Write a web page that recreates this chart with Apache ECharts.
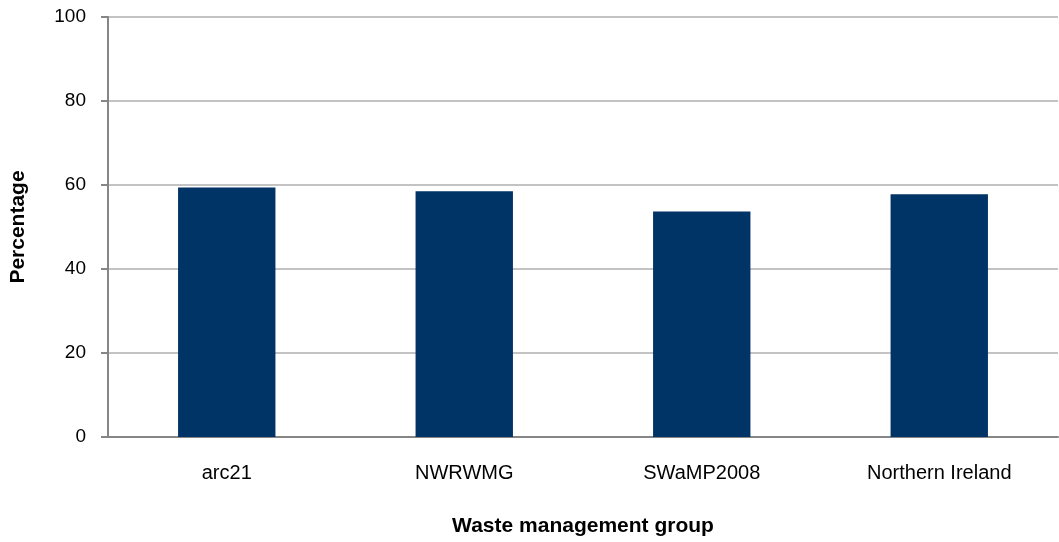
<!DOCTYPE html>
<html>
<head>
<meta charset="utf-8">
<script src="https://cdn.jsdelivr.net/npm/echarts@6/dist/echarts.min.js"></script>
<style>
html,body{margin:0;padding:0;background:#fff;overflow:hidden;}
#chart{width:1059px;height:542px;}
</style>
</head>
<body>
<div id="chart"></div>
<script>
const categories = ['arc21', 'NWRWMG', 'SWaMP2008', 'Northern Ireland'];
const values = [59.4, 58.5, 53.7, 57.8];
const yTicks = [0, 20, 40, 60, 80, 100];

const FONT = 'Liberation Sans, Arial, sans-serif';
const chart = echarts.init(document.getElementById('chart'));
chart.setOption({
  animation: false,
  textStyle: { fontFamily: FONT },
  grid: { left: 107, right: 1, top: 17, bottom: 100, containLabel: false },
  xAxis: {
    type: 'category',
    data: categories,
    name: 'Waste management group',
    nameLocation: 'middle',
    nameGap: 79,
    nameTextStyle: { fontSize: 21, fontWeight: 'bold', color: '#000', fontFamily: FONT },
    axisLine: { lineStyle: { color: '#868686', width: 2 } },
    axisTick: { show: false },
    axisLabel: { fontSize: 20, color: '#000', margin: 26 }
  },
  yAxis: {
    type: 'value',
    min: yTicks[0],
    max: yTicks[yTicks.length - 1],
    interval: 20,
    name: 'Percentage',
    nameLocation: 'middle',
    nameGap: 79,
    nameRotate: 90,
    nameTextStyle: { fontSize: 21, fontWeight: 'bold', color: '#000', fontFamily: FONT },
    axisLine: { show: true, lineStyle: { color: '#868686', width: 2 } },
    axisTick: { show: true, inside: false, length: 7, lineStyle: { color: '#868686', width: 2 } },
    axisLabel: { fontSize: 19, color: '#000', margin: 22 },
    splitLine: { show: true, lineStyle: { color: '#c3c3c3', width: 2 } }
  },
  series: [{
    type: 'bar',
    data: values,
    barWidth: '41%',
    itemStyle: { color: '#003366' }
  }]
});
</script>
</body>
</html>
